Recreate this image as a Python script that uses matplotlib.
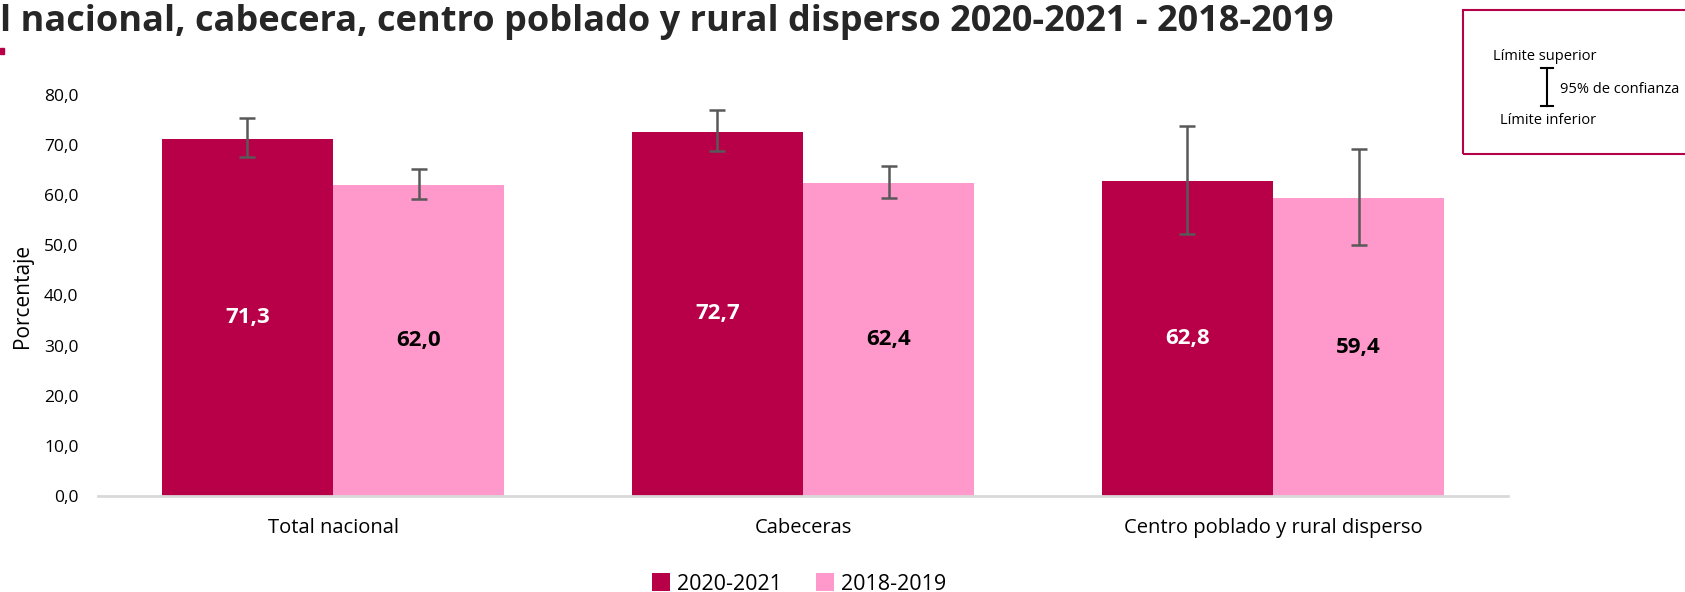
import matplotlib
matplotlib.use("Agg")
import matplotlib.pyplot as plt
from matplotlib.patches import Rectangle
import numpy as np

# data
categories = ["Total nacional", "Cabeceras", "Centro poblado y rural disperso"]
series_names = ["2020-2021", "2018-2019"]
vals_2021 = [71.3, 72.7, 62.8]
vals_2019 = [62.0, 62.4, 59.4]
lo_2021 = [67.6, 68.8, 52.2]
hi_2021 = [75.5, 77.0, 73.9]
lo_2019 = [59.2, 59.5, 50.1]
hi_2019 = [65.3, 65.8, 69.2]
yticks = np.arange(0, 81, 10)

DARK = "#B70048"
PINK = "#FF99CC"
ERR = "#595959"

plt.rcParams["font.family"] = ["Open Sans", "DejaVu Sans"]

fig = plt.figure(figsize=(16.85, 5.92), dpi=100)
ax = fig.add_axes([98 / 1685, 96 / 592, 1410 / 1685, 401 / 592])

x = np.arange(len(categories))
w = 0.364

b1 = ax.bar(x - w / 2, vals_2021, w, color=DARK, label=series_names[0])
b2 = ax.bar(x + w / 2, vals_2019, w, color=PINK, label=series_names[1])

err_kw = dict(fmt="none", ecolor=ERR, elinewidth=1.8, capsize=6, capthick=1.8)
ax.errorbar(x - w / 2, vals_2021,
            yerr=[np.subtract(vals_2021, lo_2021), np.subtract(hi_2021, vals_2021)], **err_kw)
ax.errorbar(x + w / 2, vals_2019,
            yerr=[np.subtract(vals_2019, lo_2019), np.subtract(hi_2019, vals_2019)], **err_kw)

for rect, v in zip(b1, vals_2021):
    ax.text(rect.get_x() + rect.get_width() / 2, v / 2, f"{v:.1f}".replace(".", ","),
            ha="center", va="center", color="white", fontsize=16, fontweight="bold")
for rect, v in zip(b2, vals_2019):
    ax.text(rect.get_x() + rect.get_width() / 2, v / 2, f"{v:.1f}".replace(".", ","),
            ha="center", va="center", color="black", fontsize=16, fontweight="bold")

ax.set_xlim(-0.5, 2.5)
ax.set_ylim(0, 80)
ax.set_yticks(yticks)
ax.set_yticklabels([f"{t:.1f}".replace(".", ",") for t in yticks], fontsize=12.5)
ax.set_xticks(x)
ax.set_xticklabels(categories, fontsize=14.5)
ax.tick_params(axis="y", length=0, pad=14)
ax.tick_params(axis="x", length=0, pad=16)
ax.set_ylabel("Porcentaje", fontsize=15, labelpad=8)
for s in ["top", "right", "left"]:
    ax.spines[s].set_visible(False)
ax.spines["bottom"].set_color("#D9D9D9")
ax.spines["bottom"].set_linewidth(2)

fig.legend(handles=[b1, b2], labels=series_names, loc="center", ncol=2,
           bbox_to_anchor=(799 / 1685, 1 - 584 / 592), frameon=False,
           fontsize=15.5, handlelength=0.85, handleheight=0.85, handletextpad=0.3,
           columnspacing=1.6)

# title (cut off on the left in the source)
fig.text(0.0, 1 - 22 / 592, "l nacional, cabecera, centro poblado y rural disperso 2020-2021 - 2018-2019",
         ha="left", va="center", fontsize=26, fontweight="bold", color="#262626")
fig.patches.append(Rectangle((0, 1 - 54 / 592), 4 / 1685, 6 / 592,
                             transform=fig.transFigure, color=DARK))

# confidence interval key box
fig.patches.append(Rectangle((1463 / 1685, 1 - 154 / 592), 240 / 1685, 144 / 592,
                             transform=fig.transFigure, fill=False,
                             edgecolor="#B5004A", linewidth=1.5))
fig.text(1545 / 1685, 1 - 57 / 592, "Límite superior", ha="center", va="center", fontsize=10.5)
fig.text(1548 / 1685, 1 - 121 / 592, "Límite inferior", ha="center", va="center", fontsize=10.5)
fig.text(1560 / 1685, 1 - 90 / 592, "95% de confianza", ha="left", va="center", fontsize=10.5)
kx = 1547 / 1685
fig.add_artist(plt.Line2D([kx, kx], [1 - 68 / 592, 1 - 106 / 592], color="black", lw=1.5))
for yy in (68, 106):
    fig.add_artist(plt.Line2D([kx - 6 / 1685, kx + 6 / 1685], [1 - yy / 592, 1 - yy / 592],
                              color="black", lw=1.5))

fig.savefig("out.png", dpi=100)
